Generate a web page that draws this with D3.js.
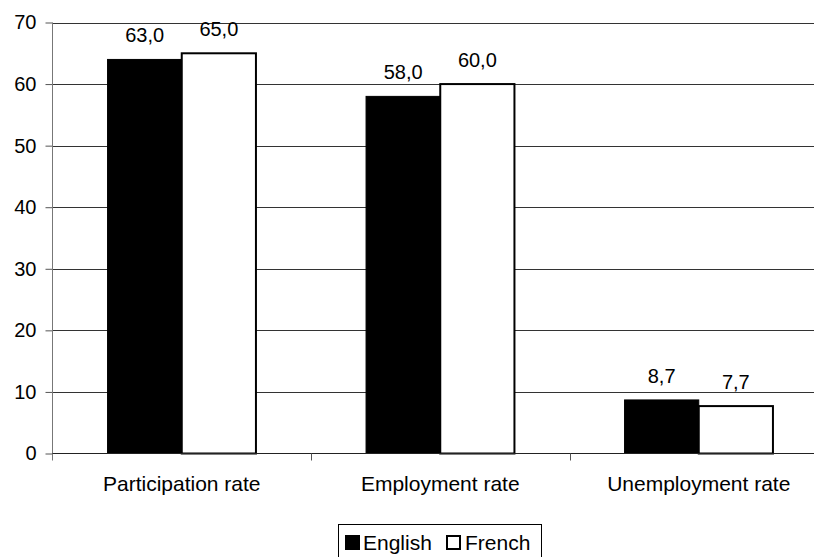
<!DOCTYPE html>
<html>
<head>
<meta charset="utf-8">
<script src="https://cdn.jsdelivr.net/npm/d3@7"></script>
<style>
  html, body { margin: 0; padding: 0; background: #fff; }
  svg { display: block; font-family: "Liberation Sans", Arial, sans-serif; }
</style>
</head>
<body>
<svg id="chart" width="814" height="557"></svg>
<script>
const categories = ["Participation rate", "Employment rate", "Unemployment rate"];
const seriesNames = ["English", "French"];
const englishValues = [64.0, 58.0, 8.7];
const frenchValues = [65.0, 60.0, 7.7];
const englishLabels = [63.0, 58.0, 8.7];
const frenchLabels = [65.0, 60.0, 7.7];
const yTicks = [0, 10, 20, 30, 40, 50, 60, 70];

(function () {
const svg = d3.select("#chart");
const pLeft = 52.5, pRight = 828, pTop = 22.5, pBottom = 453.5;

const x0 = d3.scaleBand().domain(categories).range([pLeft, pRight]).paddingInner(0).paddingOuter(0);
const x1 = d3.scaleBand().domain(seriesNames).range([0, x0.bandwidth()]).paddingInner(0).paddingOuter(0.742);
const y = d3.scaleLinear().domain([0, 70]).range([pBottom, pTop]);

const fmt = d3.formatLocale({decimal: ",", thousands: ".", grouping: [3], currency: ["", ""]}).format(".1f");

// gridlines
svg.append("g").selectAll("line").data(yTicks.filter(d => d > 0)).join("line")
  .attr("x1", pLeft).attr("x2", pRight)
  .attr("y1", d => Math.round(y(d)) + 0.5).attr("y2", d => Math.round(y(d)) + 0.5)
  .attr("stroke", "#333").attr("stroke-width", 1);

// y axis
const yAxis = d3.axisLeft(y).tickValues(yTicks).tickSize(7).tickPadding(9).tickFormat(d3.format("d"));
const gy = svg.append("g").attr("transform", `translate(${pLeft},0)`).call(yAxis);
gy.select(".domain").remove();
gy.selectAll(".tick line").attr("stroke", "#555");
gy.selectAll(".tick text").attr("font-size", "20px").attr("fill", "#000")
  .attr("font-family", "Liberation Sans, Arial, sans-serif");
gy.append("line").attr("x1", 0).attr("x2", 0).attr("y1", pTop).attr("y2", pBottom + 7)
  .attr("stroke", "#777").attr("stroke-width", 1);

// bars
const data = categories.map((c, i) => ({
  cat: c,
  vals: [
    {s: "English", v: englishValues[i], l: englishLabels[i]},
    {s: "French", v: frenchValues[i], l: frenchLabels[i]}
  ]
}));

const groups = svg.append("g").selectAll("g").data(data).join("g")
  .attr("transform", d => `translate(${x0(d.cat)},0)`);

groups.selectAll("rect").data(d => d.vals).join("rect")
  .attr("x", d => x1(d.s))
  .attr("y", d => y(d.v))
  .attr("width", x1.bandwidth())
  .attr("height", d => y(0) - y(d.v))
  .attr("fill", d => d.s === "English" ? "#000" : "#fff")
  .attr("stroke", "#000")
  .attr("stroke-width", d => d.s === "English" ? 1 : 2);

groups.selectAll("text.val").data(d => d.vals).join("text")
  .attr("class", "val")
  .attr("x", d => x1(d.s) + x1.bandwidth() / 2)
  .attr("y", d => y(d.v) - 17)
  .attr("text-anchor", "middle")
  .attr("font-size", "20px")
  .attr("fill", "#000")
  .text(d => fmt(d.l));

// x axis (zero line)
svg.append("line").attr("x1", pLeft).attr("x2", pRight)
  .attr("y1", pBottom).attr("y2", pBottom).attr("stroke", "#222").attr("stroke-width", 1);
const xAxis = d3.axisBottom(x0).tickSize(0).tickPadding(0);
const gx = svg.append("g").attr("transform", `translate(0,${pBottom})`).call(xAxis);
gx.select(".domain").remove();
gx.selectAll(".tick text").attr("font-size", "21px").attr("fill", "#000")
  .attr("font-family", "Liberation Sans, Arial, sans-serif")
  .attr("dy", null).attr("y", 37.5);
// category boundary ticks
svg.append("g").selectAll("line").data(categories.slice(1)).join("line")
  .attr("x1", d => Math.round(x0(d)) + 0.5).attr("x2", d => Math.round(x0(d)) + 0.5)
  .attr("y1", pBottom).attr("y2", pBottom + 7)
  .attr("stroke", "#555");

// legend
const lg = svg.append("g");
lg.append("rect").attr("x", 338.5).attr("y", 524.5).attr("width", 203).attr("height", 40)
  .attr("fill", "#fff").attr("stroke", "#000").attr("stroke-width", 1);
const legendItems = [
  {s: "English", sx: 345, tx: 363},
  {s: "French", sx: 446, tx: 465}
];
legendItems.forEach(it => {
  const isFr = it.s === "French";
  lg.append("rect").attr("x", it.sx + (isFr ? 1 : 0)).attr("y", 535 + (isFr ? 1 : 0))
    .attr("width", isFr ? 13 : 15).attr("height", isFr ? 13 : 15)
    .attr("fill", isFr ? "#fff" : "#000")
    .attr("stroke", "#000").attr("stroke-width", isFr ? 2 : 0);
  lg.append("text").attr("x", it.tx).attr("y", 549.5).attr("font-size", "21px").attr("fill", "#000").text(it.s);
});
})();
</script>
</body>
</html>
